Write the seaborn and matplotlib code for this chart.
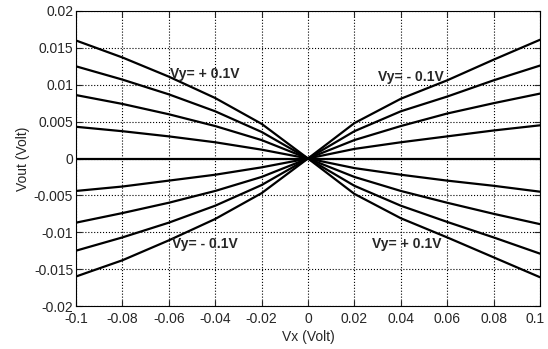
import numpy as np
import pandas as pd
import seaborn as sns
import matplotlib
matplotlib.use("Agg")
import matplotlib.pyplot as plt
import matplotlib.transforms as mtransforms

# Vx sweep (Volt)
vx = [-0.1, -0.08, -0.06, -0.04, -0.02, 0.0, 0.02, 0.04, 0.06, 0.08, 0.1]

# Vout (Volt) for each Vy setting
vout_p100 = [0.0160, 0.0137, 0.0111, 0.0082, 0.0047, 0.0, -0.0048, -0.0081, -0.0107, -0.0134, -0.0161]
vout_p075 = [0.0125, 0.0107, 0.0087, 0.0064, 0.0036, 0.0, -0.0037, -0.0064, -0.0086, -0.0107, -0.0129]
vout_p050 = [0.0086, 0.0074, 0.0060, 0.0044, 0.0025, 0.0, -0.0025, -0.0044, -0.0060, -0.0075, -0.0089]
vout_p025 = [0.0043, 0.0037, 0.0030, 0.0022, 0.0012, 0.0, -0.0013, -0.0022, -0.0030, -0.0037, -0.0045]
vout_000 = [0.0, 0.0, 0.0, 0.0, 0.0, 0.0, 0.0, 0.0, 0.0, 0.0, 0.0]
vout_m025 = [-0.0044, -0.0038, -0.0030, -0.0022, -0.0012, 0.0, 0.0013, 0.0022, 0.0030, 0.0038, 0.0045]
vout_m050 = [-0.0087, -0.0074, -0.0060, -0.0044, -0.0025, 0.0, 0.0025, 0.0044, 0.0061, 0.0075, 0.0088]
vout_m075 = [-0.0125, -0.0107, -0.0087, -0.0064, -0.0036, 0.0, 0.0037, 0.0064, 0.0084, 0.0106, 0.0126]
vout_m100 = [-0.0160, -0.0138, -0.0111, -0.0082, -0.0047, 0.0, 0.0048, 0.0081, 0.0106, 0.0134, 0.0161]

vy_levels = [0.1, 0.075, 0.05, 0.025, 0.0, -0.025, -0.05, -0.075, -0.1]
curves = [vout_p100, vout_p075, vout_p050, vout_p025, vout_000,
          vout_m025, vout_m050, vout_m075, vout_m100]

xticks = [-0.1, -0.08, -0.06, -0.04, -0.02, 0, 0.02, 0.04, 0.06, 0.08, 0.1]
xticklabels = ["-0.1", "-0.08", "-0.06", "-0.04", "-0.02", "0", "0.02", "0.04", "0.06", "0.08", "0.1"]
yticks = [-0.02, -0.015, -0.01, -0.005, 0, 0.005, 0.01, 0.015, 0.02]
yticklabels = ["-0.02", "-0.015", "-0.01", "-0.005", "0", "0.005", "0.01", "0.015", "0.02"]

df = pd.concat([pd.DataFrame({"Vx": vx, "Vout": c, "Vy": v})
                for v, c in zip(vy_levels, curves)], ignore_index=True)

sns.set_style("ticks")
plt.rcParams["font.family"] = ["Liberation Sans", "DejaVu Sans"]

fig = plt.figure(figsize=(5.48, 3.49), dpi=100)
ax = fig.add_axes([76 / 548, 1 - 306 / 349, 464 / 548, 295 / 349])

sns.lineplot(data=df, x="Vx", y="Vout", hue="Vy", units="Vy", estimator=None,
             palette=["black"] * len(vy_levels), legend=False, linewidth=1.6, ax=ax)

ax.set_xlim(-0.1, 0.1)
ax.set_ylim(-0.02, 0.02)
ax.set_xticks(xticks)
ax.set_xticklabels(xticklabels)
ax.set_yticks(yticks)
ax.set_yticklabels(yticklabels)
ax.tick_params(direction="in", top=True, right=True, labelsize=10, length=4, width=0.8)
ax.tick_params(axis="x", pad=4)
ax.tick_params(axis="y", pad=2)
ax.grid(True, linestyle=":", color="black", linewidth=0.8)
for s in ax.spines.values():
    s.set_visible(True)
    s.set_color("black")
    s.set_linewidth(0.8)

# keep the last x label inside the canvas
last = ax.get_xticklabels()[-1]
last.set_transform(last.get_transform() + mtransforms.ScaledTranslation(-5 / 100, 0, fig.dpi_scale_trans))

ax.set_xlabel("Vx (Volt)", fontsize=10, labelpad=3)
ax.set_ylabel("Vout (Volt)", fontsize=10, labelpad=3)

kw = dict(fontsize=10, fontweight="bold", va="center", ha="left")
ax.text(-0.0595, 0.0114, "Vy= + 0.1V", **kw)
ax.text(0.030, 0.0110, "Vy= - 0.1V", **kw)
ax.text(-0.0586, -0.0116, "Vy= - 0.1V", **kw)
ax.text(0.0276, -0.0116, "Vy= + 0.1V", **kw)

fig.savefig("out.png", dpi=100, facecolor="white")
